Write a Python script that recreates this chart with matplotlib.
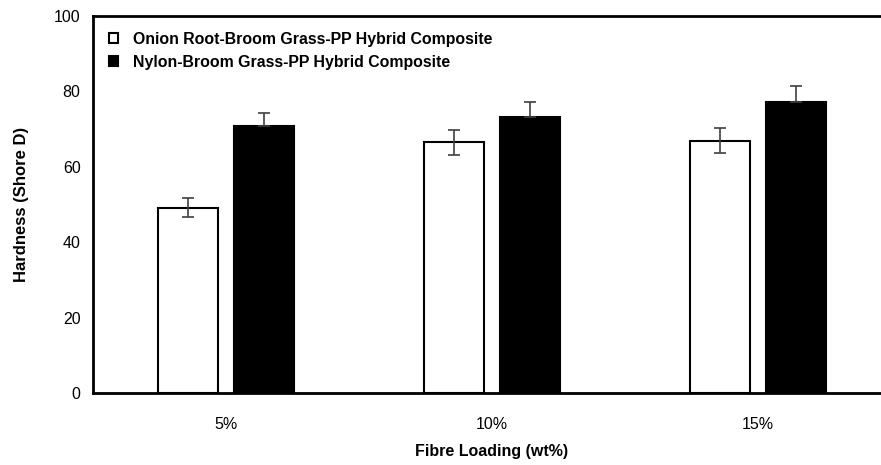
import matplotlib
matplotlib.use("Agg")
import matplotlib.pyplot as plt
import numpy as np

plt.rcParams['font.family'] = ['Liberation Sans', 'DejaVu Sans']

categories = ["5%", "10%", "15%"]
onion_vals = [49.1, 66.5, 66.9]
onion_err = [2.5, 3.3, 3.3]
nylon_vals = [70.8, 73.3, 77.3]
nylon_err = [3.6, 3.8, 4.0]
series_labels = ["Onion Root-Broom Grass-PP Hybrid Composite",
                 "Nylon-Broom Grass-PP Hybrid Composite"]

fig = plt.figure(figsize=(8.81, 4.65), dpi=100)
ax = fig.add_axes([93/881, 72/465, 798/881, 377/465])

x = np.arange(len(categories))
w = 0.226
off = 0.143
ekw = dict(ecolor='#404040', elinewidth=1.2, capsize=4, capthick=1.2)
ax.bar(x - off, onion_vals, w, color='white', edgecolor='black', linewidth=1.5,
       yerr=onion_err, error_kw=ekw, label=series_labels[0], zorder=2)
ax.bar(x + off, nylon_vals, w, color='black', edgecolor='black', linewidth=1.5,
       yerr=[[0, 0, 0], nylon_err], error_kw=ekw, label=series_labels[1], zorder=2)

ax.set_xlim(-0.5, 2.5)
ax.set_ylim(0, 100)
ax.set_yticks([0, 20, 40, 60, 80, 100])
ax.set_xticks(x)
ax.set_xticklabels(categories)
ax.tick_params(axis='both', length=0, labelsize=11.5)
ax.tick_params(axis='y', pad=9)
ax.tick_params(axis='x', pad=17)
for s in ['top', 'bottom', 'left', 'right']:
    ax.spines[s].set_linewidth(2)

ax.set_ylabel("Hardness (Shore D)", fontsize=12, fontweight='bold', labelpad=18)
ax.set_xlabel("Fibre Loading (wt%)", fontsize=11.5, fontweight='bold', labelpad=9)

leg = ax.legend(loc='upper left', bbox_to_anchor=(0.0, 1.0), frameon=False,
                prop={'weight': 'bold', 'size': 11.4}, handlelength=0.6,
                handleheight=0.6, handletextpad=0.9, labelspacing=0.5,
                borderaxespad=0.5, borderpad=0.5)

fig.savefig("out.png", dpi=100)
